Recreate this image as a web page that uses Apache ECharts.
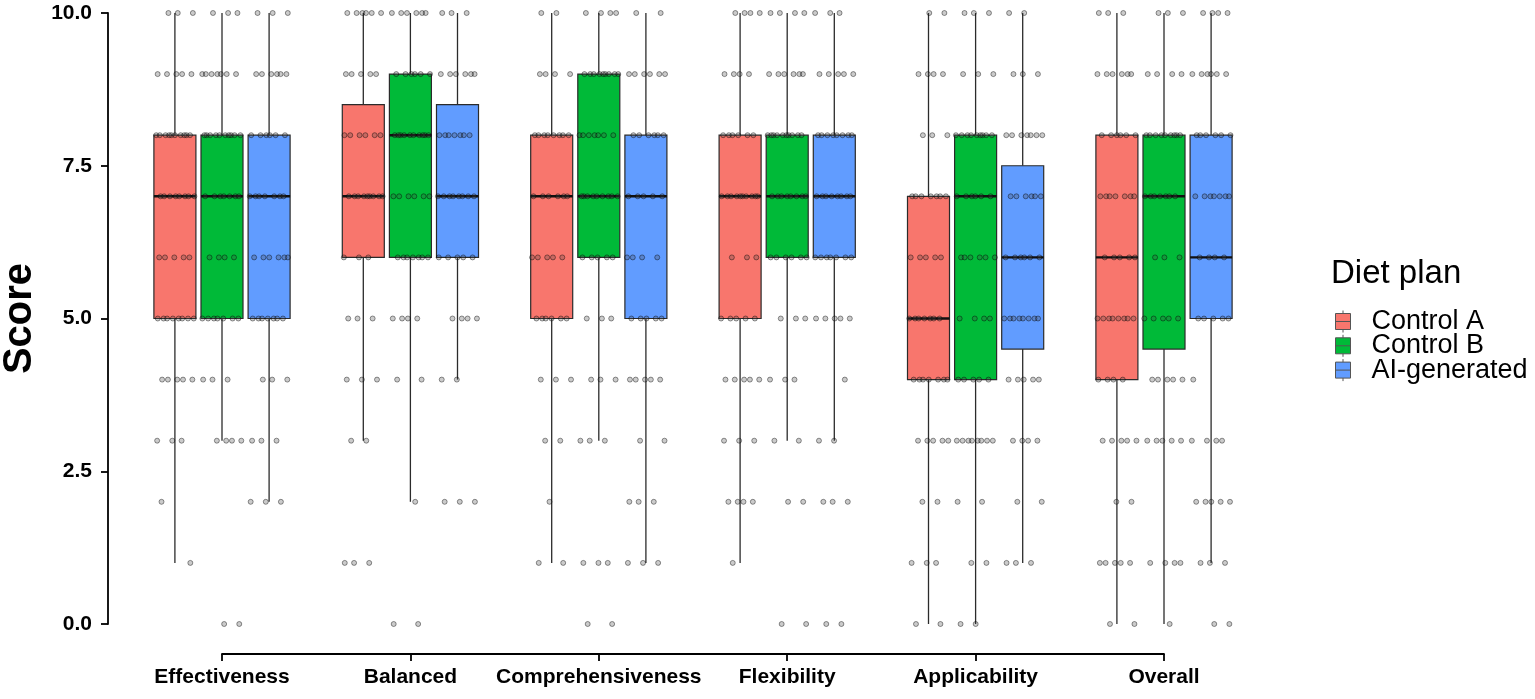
<!DOCTYPE html>
<html>
<head>
<meta charset="utf-8">
<script src="https://cdn.jsdelivr.net/npm/echarts@6/dist/echarts.min.js"></script>
<style>
html,body{margin:0;padding:0;background:#fff;}
#chart{width:1535px;height:699px;}
</style>
</head>
<body>
<div id="chart"></div>
<script>
// ---------------- DATA ----------------
const categories = ['Effectiveness', 'Balanced', 'Comprehensiveness', 'Flexibility', 'Applicability', 'Overall'];
const seriesNames = ['Control A', 'Control B', 'AI-generated'];
const yTicks = [0, 2.5, 5, 7.5, 10];

// box statistics per category: [lower whisker, Q1, median, Q3, upper whisker]
const boxControlA = [[1,5,7,8,10],[3,6,7,8.5,10],[1,5,7,8,10],[1,5,7,8,10],[0,4,5,7,10],[0,4,6,8,10]];
const boxControlB = [[3,5,7,8,10],[2,6,8,9,10],[3,6,7,9,10],[3,6,7,8,10],[0,4,7,8,10],[0,4.5,7,8,10]];
const boxAI       = [[2,5,7,8,10],[4,6,7,8.5,10],[1,5,7,8,10],[3,6,7,8,10],[1,4.5,6,7.5,10],[1,5,6,8,10]];

// number of individual responses at each score 0..10, per category
const countsControlA = [
  [0,1,1,3,5,8,5,8,10,5,3],
  [0,3,0,2,3,3,3,9,6,5,6],
  [0,2,1,2,3,6,5,6,8,4,2],
  [0,1,4,3,5,5,3,10,6,4,4],
  [2,3,2,5,7,7,5,7,3,4,2],
  [2,5,2,5,4,8,5,7,6,6,3]
];
const countsControlB = [
  [2,0,0,4,3,7,4,7,10,7,3],
  [2,0,1,0,2,4,7,6,10,6,6],
  [2,3,0,3,3,3,5,9,7,9,4],
  [2,0,2,2,3,3,6,8,10,6,4],
  [2,2,2,8,5,4,6,6,9,3,3],
  [1,4,0,5,5,5,3,7,9,4,3]
];
const countsAI = [
  [0,0,3,3,3,7,6,7,6,6,3],
  [0,0,3,0,2,4,5,8,7,6,3],
  [0,3,3,2,5,5,4,5,6,6,2],
  [2,0,3,2,1,5,7,8,8,5,3],
  [0,3,2,4,5,8,6,6,7,3,2],
  [2,3,5,4,1,5,4,7,6,6,4]
];

// ---------------- STYLE ----------------
const colors = ['#F8766D', '#00BA38', '#619CFF'];
const dodge = [-0.25, 0, 0.25];      // group offsets in category units
const BOX_W = 0.223;                 // box width in category units
const JITTER = 0.105;                // half jitter width in category units
const FONT = '"Liberation Sans", Arial, Helvetica, sans-serif';

const boxes = [boxControlA, boxControlB, boxAI];
const counts = [countsControlA, countsControlB, countsAI];

function boxData(s) {
  return boxes[s].map((b, c) => [c + dodge[s]].concat(b));
}
function pointData(s) {
  const out = [];
  counts[s].forEach((row, c) => {
    row.forEach((n, score) => {
      for (let k = 0; k < n; k++) {
        // deterministic spread of points across the jitter band (layout only)
        const f = ((k + 1) * 0.6180339887 + score * 0.2718 + c * 0.1414 + s * 0.3183) % 1;
        out.push([c + dodge[s] + (f - 0.5) * 2 * JITTER, score]);
      }
    });
  });
  return out;
}

function renderBox(params, api) {
  const x = api.value(0);
  const lo = api.coord([x, api.value(1)]);
  const q1 = api.coord([x, api.value(2)]);
  const md = api.coord([x, api.value(3)]);
  const q3 = api.coord([x, api.value(4)]);
  const hi = api.coord([x, api.value(5)]);
  const w = api.size([BOX_W, 0])[0];
  const fill = api.visual('color');
  const edge = '#2b2b2b';
  return {
    type: 'group',
    children: [
      {type: 'line', shape: {x1: lo[0], y1: lo[1], x2: q1[0], y2: q1[1]}, style: {stroke: edge, lineWidth: 1.3}},
      {type: 'line', shape: {x1: q3[0], y1: q3[1], x2: hi[0], y2: hi[1]}, style: {stroke: edge, lineWidth: 1.3}},
      {type: 'rect', shape: {x: q3[0] - w / 2, y: q3[1], width: w, height: q1[1] - q3[1]}, style: {fill: fill, stroke: edge, lineWidth: 1.2}},
      {type: 'line', shape: {x1: md[0] - w / 2, y1: md[1], x2: md[0] + w / 2, y2: md[1]}, style: {stroke: '#111', lineWidth: 2.4}}
    ]
  };
}

const series = [];
seriesNames.forEach((name, s) => {
  series.push({
    name: name,
    type: 'custom',
    xAxisIndex: 1,
    yAxisIndex: 0,
    itemStyle: {color: colors[s], borderColor: '#333', borderWidth: 1},
    renderItem: renderBox,
    encode: {x: 0, y: [1, 2, 3, 4, 5]},
    data: boxData(s),
    z: 2
  });
});
seriesNames.forEach((name, s) => {
  series.push({
    name: name + ' points',
    type: 'scatter',
    xAxisIndex: 1,
    yAxisIndex: 0,
    clip: false,
    symbol: 'circle',
    symbolSize: 5,
    itemStyle: {color: 'rgba(70,70,70,0.35)', borderColor: 'rgba(0,0,0,0.65)', borderWidth: 0.8},
    data: pointData(s),
    z: 5,
    silent: true
  });
});

const chart = echarts.init(document.getElementById('chart'));
chart.setOption({
  animation: false,
  backgroundColor: '#fff',
  textStyle: {fontFamily: FONT},
  title: {
    text: 'Diet plan',
    left: 1331,
    top: 257,
    padding: 0,
    textStyle: {fontFamily: FONT, fontSize: 33, fontWeight: 'normal', color: '#000'}
  },
  legend: {
    data: seriesNames,
    orient: 'vertical',
    left: 1330,
    top: 303,
    itemWidth: 15,
    itemHeight: 22,
    itemGap: -2.7,
    icon: 'path://M0,3 L15,3 L15,19 L0,19 Z M0,11 L15,11 M7.5,0 L7.5,3 M7.5,19 L7.5,22',
    itemStyle: {borderColor: '#555', borderWidth: 1},
    textStyle: {fontFamily: FONT, fontSize: 27, color: '#000', padding: [0, 0, 0, 16]},
    selectedMode: false
  },
  grid: {left: 222, right: 371, top: 13, bottom: 75, containLabel: false, outerBoundsMode: 'none'},
  xAxis: [
    {
      type: 'category',
      data: categories,
      boundaryGap: false,
      offset: 30,
      axisLine: {show: true, onZero: false, lineStyle: {color: '#000', width: 1.8}},
      axisTick: {show: true, length: 7, alignWithLabel: true, lineStyle: {color: '#000', width: 1.8}},
      axisLabel: {interval: 0, margin: 13, color: '#000', fontFamily: FONT, fontSize: 21, fontWeight: 'bold'},
      splitLine: {show: false}
    },
    {
      type: 'value',
      min: 0,
      max: 5,
      show: false,
      axisLine: {onZero: false}
    }
  ],
  yAxis: [{
    type: 'value',
    min: yTicks[0],
    max: yTicks[yTicks.length - 1],
    interval: 2.5,
    offset: 114,
    name: 'Score',
    nameLocation: 'middle',
    nameGap: 64,
    nameTextStyle: {fontFamily: FONT, fontSize: 40, fontWeight: 'bold', color: '#000'},
    axisLine: {show: true, onZero: false, lineStyle: {color: '#000', width: 1.8}},
    axisTick: {show: true, length: 7, lineStyle: {color: '#000', width: 1.8}},
    axisLabel: {margin: 16, color: '#000', fontFamily: FONT, fontSize: 21, fontWeight: 'bold', formatter: v => v.toFixed(1)},
    splitLine: {show: false}
  }],
  series: series
});
</script>
</body>
</html>
